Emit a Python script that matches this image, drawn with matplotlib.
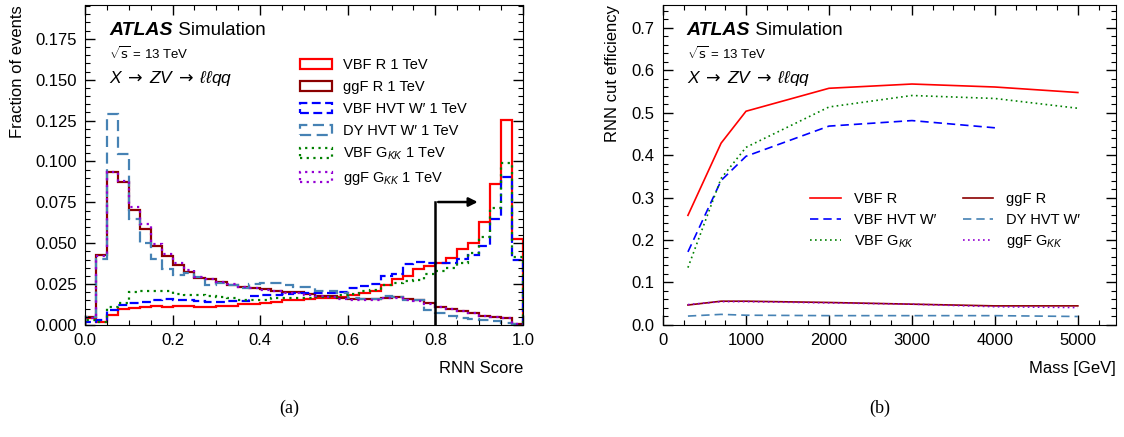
import numpy as np
import matplotlib
matplotlib.use('Agg')
import matplotlib.pyplot as plt
from matplotlib.patches import Patch
from matplotlib.ticker import MultipleLocator, FormatStrFormatter

plt.rcParams['font.family'] = ['Liberation Sans', 'DejaVu Sans']
plt.rcParams['mathtext.fontset'] = 'custom'
plt.rcParams['mathtext.rm'] = 'DejaVu Sans'
plt.rcParams['mathtext.it'] = 'Liberation Sans:italic'
plt.rcParams['mathtext.bf'] = 'Liberation Sans:bold'

# (a) RNN score distributions, 40 bins in [0, 1]
edges = np.linspace(0, 1, 41)

vbf_r = [0.004, 0.002, 0.006, 0.0095, 0.0105, 0.011, 0.0118, 0.0113, 0.0116, 0.0116,
         0.0113, 0.0113, 0.0114, 0.0118, 0.0126, 0.013, 0.0135, 0.014, 0.015, 0.0153,
         0.0158, 0.0163, 0.0163, 0.017, 0.0185, 0.0197, 0.021, 0.0245, 0.028, 0.030,
         0.034, 0.0362, 0.0377, 0.041, 0.0465, 0.0503, 0.063, 0.0865, 0.1255, 0.0524]
ggf_r = [0.0047, 0.0425, 0.0935, 0.0873, 0.0704, 0.059, 0.0483, 0.042, 0.0368, 0.0327,
         0.0288, 0.0279, 0.026, 0.0245, 0.0235, 0.0225, 0.0218, 0.021, 0.0202, 0.020,
         0.0188, 0.018, 0.0178, 0.0167, 0.0158, 0.0157, 0.0157, 0.0168, 0.017, 0.0158,
         0.015, 0.0133, 0.0112, 0.0098, 0.0086, 0.0072, 0.0058, 0.0046, 0.0041, 0.0006]
vbf_hvt = [0.002, 0.003, 0.009, 0.0125, 0.0135, 0.0143, 0.0155, 0.016, 0.0152, 0.015,
           0.0145, 0.014, 0.0142, 0.0145, 0.0148, 0.0175, 0.0183, 0.0185, 0.0192, 0.0194,
           0.0196, 0.0198, 0.0198, 0.0199, 0.0224, 0.024, 0.025, 0.0302, 0.0314, 0.0375,
           0.0385, 0.038, 0.0377, 0.0378, 0.0402, 0.043, 0.0482, 0.0646, 0.0907, 0.0395]
dy_hvt = [0.005, 0.0402, 0.1288, 0.1045, 0.0647, 0.0502, 0.0405, 0.0343, 0.0306, 0.0316,
          0.0292, 0.0242, 0.0255, 0.0245, 0.0226, 0.025, 0.0255, 0.0255, 0.0245, 0.0235,
          0.0232, 0.021, 0.0205, 0.0194, 0.0165, 0.0158, 0.0158, 0.0175, 0.0172, 0.0155,
          0.015, 0.0092, 0.0075, 0.0055, 0.0045, 0.0035, 0.0028, 0.0022, 0.0014, 0.0006]
vbf_gkk = [0.003, 0.002, 0.0112, 0.0133, 0.0204, 0.0206, 0.021, 0.0208, 0.019, 0.0183,
           0.0182, 0.0175, 0.0172, 0.0168, 0.0155, 0.0153, 0.0155, 0.0165, 0.0168, 0.0168,
           0.0168, 0.0172, 0.0172, 0.0185, 0.019, 0.0205, 0.0215, 0.0245, 0.0255, 0.027,
           0.0275, 0.0312, 0.0332, 0.035, 0.038, 0.0442, 0.054, 0.0718, 0.0993, 0.0414]
ggf_gkk = [0.0045, 0.042, 0.0935, 0.088, 0.0722, 0.062, 0.0495, 0.0435, 0.038, 0.0335,
           0.0292, 0.0282, 0.0262, 0.0248, 0.0232, 0.0228, 0.0215, 0.0208, 0.0198, 0.0195,
           0.0183, 0.0176, 0.0172, 0.0162, 0.0155, 0.0152, 0.0155, 0.0165, 0.0168, 0.0155,
           0.0148, 0.013, 0.011, 0.0097, 0.0085, 0.0072, 0.0057, 0.0047, 0.004, 0.0006]

# (b) RNN cut efficiency vs mass
mass = [300, 700, 1000, 2000, 3000, 4000, 5000]
mass_hvt = [300, 700, 1000, 2000, 3000, 4000]
eff_vbf_r = [0.258, 0.428, 0.503, 0.557, 0.567, 0.560, 0.547]
eff_ggf_r = [0.047, 0.056, 0.056, 0.053, 0.049, 0.045, 0.045]
eff_vbf_hvt = [0.172, 0.340, 0.397, 0.468, 0.481, 0.464]
eff_dy_hvt = [0.021, 0.025, 0.023, 0.022, 0.022, 0.022, 0.020]
eff_vbf_gkk = [0.135, 0.345, 0.418, 0.513, 0.540, 0.533, 0.510]
eff_ggf_gkk = [0.048, 0.055, 0.055, 0.052, 0.049, 0.043, 0.041]

RED = '#ff0000'
DRED = '#8b0000'
BLUE = '#0000ff'
LBLUE = '#4682b4'
GREEN = '#008000'
PURPLE = '#9400d3'


def style_axes(ax):
    ax.tick_params(which='both', direction='in', top=True, right=True, labelsize=12)
    ax.tick_params(which='major', length=7, width=1, pad=6)
    ax.tick_params(which='minor', length=3.5, width=0.8)


def atlas_label(ax, x):
    t = ax.text(x, 0.906, 'ATLAS', transform=ax.transAxes, fontsize=14,
                fontweight='bold', fontstyle='italic', va='baseline')
    ax.annotate(' Simulation', xy=(1, 0), xycoords=t, fontsize=13.5, va='bottom')
    ax.text(x, 0.83, r'$\sqrt{\mathrm{s}}$ = 13 TeV', transform=ax.transAxes,
            fontsize=9.5, va='baseline')
    ax.text(x, 0.755, r'$X\;\rightarrow\;ZV\;\rightarrow\;\ell\ell qq$',
            transform=ax.transAxes, fontsize=12.5, va='baseline')


fig = plt.figure(figsize=(11.24, 4.37), dpi=100)
ax1 = fig.add_axes([0.0756, 0.2563, 0.3897, 0.7323])
ax2 = fig.add_axes([0.5899, 0.2563, 0.4030, 0.7323])

# ---- panel (a)
hists = [
    (vbf_r, RED, '-', 'VBF R 1 TeV'),
    (ggf_r, DRED, '-', 'ggF R 1 TeV'),
    (vbf_hvt, BLUE, (0, (4, 2)), 'VBF HVT W′ 1 TeV'),
    (dy_hvt, LBLUE, (0, (5, 2.5)), 'DY HVT W′ 1 TeV'),
    (vbf_gkk, GREEN, (0, (1, 2)), r'VBF G$_{KK}$ 1 TeV'),
    (ggf_gkk, PURPLE, (0, (1, 2)), r'ggF G$_{KK}$ 1 TeV'),
]
handles = []
for vals, col, ls, lab in hists:
    ax1.stairs(vals, edges, color=col, lw=1.6, ls=ls)
    handles.append(Patch(facecolor='none', edgecolor=col, lw=1.6, ls=ls, label=lab))

ax1.annotate('', xy=(0.903, 0.0752), xytext=(0.8, 0.0752),
             arrowprops=dict(arrowstyle='-|>', color='black', lw=1.8, mutation_scale=13))
ax1.plot([0.8, 0.8], [0, 0.0752], color='black', lw=1.8)

ax1.set_xlim(0, 1)
ax1.set_ylim(0, 0.1957)
ax1.xaxis.set_major_locator(MultipleLocator(0.2))
ax1.xaxis.set_minor_locator(MultipleLocator(0.05))
ax1.yaxis.set_major_locator(MultipleLocator(0.025))
ax1.yaxis.set_minor_locator(MultipleLocator(0.005))
ax1.xaxis.set_major_formatter(FormatStrFormatter('%.1f'))
ax1.yaxis.set_major_formatter(FormatStrFormatter('%.3f'))
style_axes(ax1)
ax1.set_xlabel('RNN Score', fontsize=12, loc='right', labelpad=9)
ax1.set_ylabel('Fraction of events', fontsize=12, loc='top', labelpad=7)
atlas_label(ax1, 0.055)
ax1.legend(handles=handles, loc='upper left', bbox_to_anchor=(0.49, 0.835), frameon=False,
           fontsize=10.5, borderpad=0, borderaxespad=0, handlelength=2.25,
           handleheight=0.7, handletextpad=0.7, labelspacing=0.55)

# ---- panel (b)
l_vbf_r, = ax2.plot(mass, eff_vbf_r, color=RED, lw=1.2, label='VBF R')
l_vbf_hvt, = ax2.plot(mass_hvt, eff_vbf_hvt, color=BLUE, lw=1.2, ls=(0, (5, 3)), label='VBF HVT W′')
l_vbf_gkk, = ax2.plot(mass, eff_vbf_gkk, color=GREEN, lw=1.2, ls=(0, (1, 2)), label=r'VBF G$_{KK}$')
l_ggf_r, = ax2.plot(mass, eff_ggf_r, color=DRED, lw=1.2, label='ggF R')
l_dy_hvt, = ax2.plot(mass, eff_dy_hvt, color=LBLUE, lw=1.2, ls=(0, (5, 3)), label='DY HVT W′')
l_ggf_gkk, = ax2.plot(mass, eff_ggf_gkk, color=PURPLE, lw=1.2, ls=(0, (1, 2)), label=r'ggF G$_{KK}$')

ax2.set_xlim(0, 5460)
ax2.set_ylim(0, 0.753)
ax2.xaxis.set_major_locator(MultipleLocator(1000))
ax2.xaxis.set_minor_locator(MultipleLocator(250))
ax2.yaxis.set_major_locator(MultipleLocator(0.1))
ax2.yaxis.set_minor_locator(MultipleLocator(0.02))
ax2.yaxis.set_major_formatter(FormatStrFormatter('%.1f'))
style_axes(ax2)
ax2.set_xlabel('Mass [GeV]', fontsize=12, loc='right', labelpad=9)
ax2.set_ylabel('RNN cut efficiency', fontsize=12, loc='top', labelpad=8)
atlas_label(ax2, 0.052)
ax2.legend(handles=[l_vbf_r, l_vbf_hvt, l_vbf_gkk, l_ggf_r, l_dy_hvt, l_ggf_gkk],
           ncol=2, loc='upper left', bbox_to_anchor=(0.325, 0.415), frameon=False,
           fontsize=10.5, borderpad=0, borderaxespad=0, handlelength=2.1,
           handletextpad=0.9, labelspacing=0.45, columnspacing=1.8)

fig.text(289 / 1124, 1 - 408 / 437, '(a)', fontsize=13, family='Liberation Serif',
         ha='center', va='center')
fig.text(880 / 1124, 1 - 408 / 437, '(b)', fontsize=13, family='Liberation Serif',
         ha='center', va='center')

fig.savefig('out.png', dpi=100)
